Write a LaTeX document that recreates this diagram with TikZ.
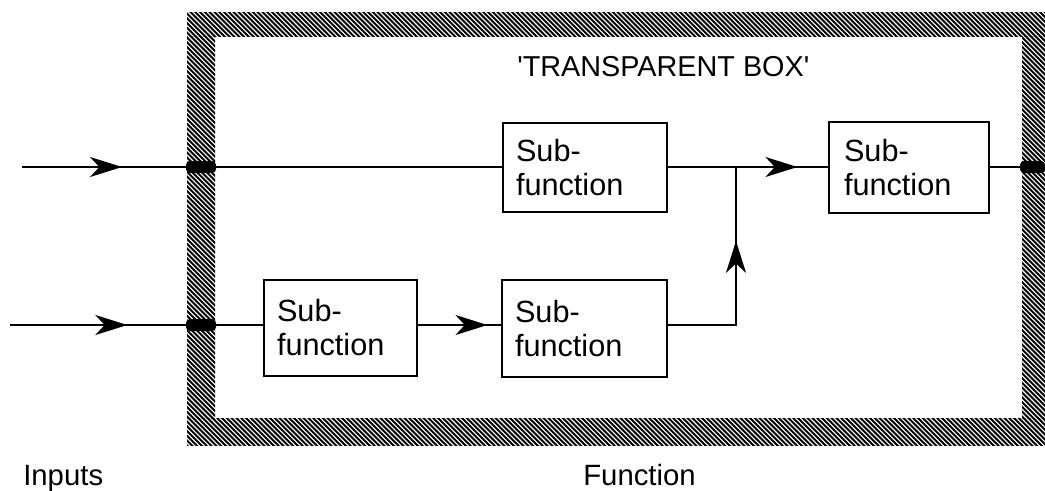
\documentclass[tikz,border=0pt]{standalone}
\usepackage{fontspec}
\setmainfont{Liberation Sans}
\usetikzlibrary{arrows.meta,decorations.markings}
\newdimen\pxu \pxu=0.75pt
\tikzset{
  conn/.style={line width=1.7pt},
  sub/.style={draw, line width=1.7pt, rectangle, inner xsep=13\pxu, inner ysep=0pt,
     align=left, anchor=center, font=\fontsize{23}{25.5}\selectfont},
  lbl/.style={anchor=base west, inner sep=0pt, font=\fontsize{22}{25}\selectfont},
  arrowat/.style={postaction={decorate}, decoration={markings,
     mark=at position #1 with {\arrow{Stealth[length=24pt,width=15pt,inset=7pt]}}}},
  blob/.style={fill=black, rounded corners=4\pxu}
}
\newcommand\hatchband[4]{%
  \begin{scope}
    \clip (#1,#2) rectangle (#3,#4);
    \foreach \i in {0,...,330} {
      \draw[line width=1.45pt] ({\i*4.8-460},0) -- ++(480,480);
    }
  \end{scope}}
\begin{document}
\begin{tikzpicture}[x=0.75pt,y=-0.75pt]
\useasboundingbox (0,0) rectangle (1045,490);
% hatched frame
\hatchband{187}{12}{1045}{36}
\hatchband{187}{418}{1045}{445}
\hatchband{187}{36}{215}{418}
\hatchband{1022}{36}{1045}{418}
% title
\node[lbl, font=\fontsize{21.6}{24}\selectfont] (title) at (517,76) {\textquotesingle TRANSPARENT BOX\textquotesingle};
% boxes
\node[sub, minimum width=164\pxu, minimum height=89\pxu, text width=138\pxu] (b1) at (585,167.5) {Sub-\\function};
\node[sub, minimum width=153\pxu, minimum height=96\pxu, text width=127\pxu] (b2) at (340.5,328) {Sub-\\function};
\node[sub, minimum width=165\pxu, minimum height=97\pxu, text width=139\pxu] (b3) at (584.5,328.5) {Sub-\\function};
\node[sub, minimum width=160\pxu, minimum height=91\pxu, text width=130\pxu] (b4) at (909,167.5) {Sub-\\function};
% coordinates
\coordinate (in1) at (22,167);
\coordinate (in2) at (10,325);
\coordinate (join) at (736,167);
\coordinate (out) at (1045,167);
% connectors
\draw[conn, arrowat=75pt] (in1) -- (b1.west |- in1);
\draw[conn, arrowat=88pt] (in2) -- (b2.west |- in2);
\draw[conn, arrowat=52pt] (b2.east |- in2) -- (b3.west |- in2);
\draw[conn, arrowat=97pt] (b1.east |- in1) -- (b4.west |- in1);
\draw[conn, arrowat=114pt] (b3.east |- in2) -| (join);
\draw[conn] (b4.east |- in1) -- (out);
% blobs where lines cross the frame
\fill[blob] (186,161) rectangle (216,173);
\fill[blob] (186,319) rectangle (216,331);
\fill[blob] (1020,161) rectangle (1045,173);
% labels
\node[lbl] (inputs) at (23,485) {Inputs};
\node[lbl] (function) at (583,485) {Function};
\end{tikzpicture}
\end{document}
